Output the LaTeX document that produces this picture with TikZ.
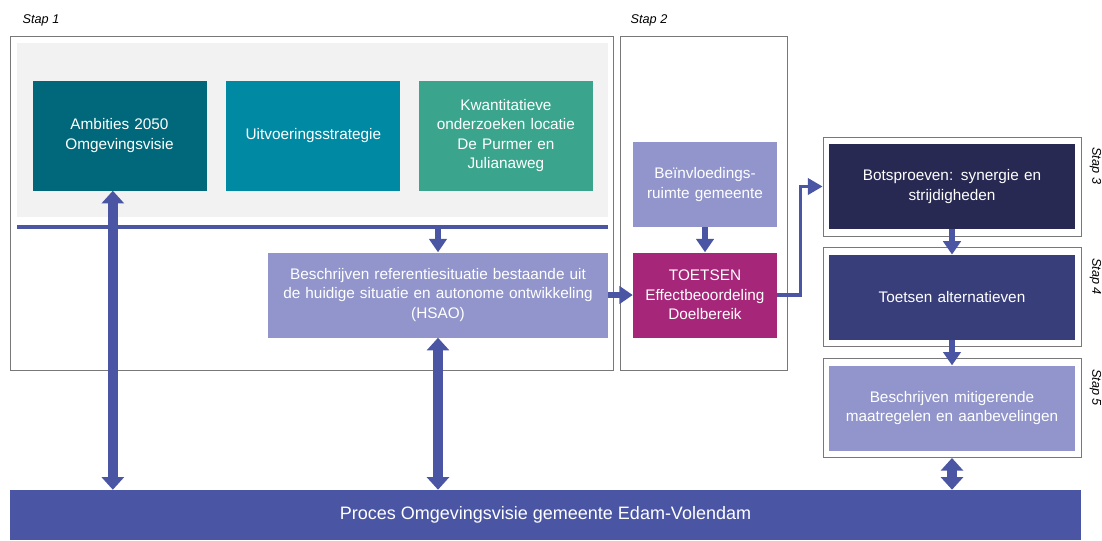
\documentclass[tikz,border=0pt]{standalone}
\usepackage{fontspec}
\setmainfont{Liberation Sans}
\usetikzlibrary{positioning, arrows.meta}

\definecolor{ambiteal}{RGB}{0,104,122}
\definecolor{uitvteal}{RGB}{0,137,163}
\definecolor{kwantgreen}{RGB}{58,165,140}
\definecolor{lilac}{RGB}{145,149,203}
\definecolor{toetsmagenta}{RGB}{166,38,122}
\definecolor{navydark}{RGB}{40,41,82}
\definecolor{navy}{RGB}{56,62,122}
\definecolor{procesblue}{RGB}{74,85,163}
\definecolor{panelgray}{RGB}{242,242,242}
\definecolor{framegray}{RGB}{120,120,120}

\newcommand{\boxfont}{\fontsize{11.5}{14.5}\selectfont}

\begin{document}
\begin{tikzpicture}[
    x=0.75pt, y=-0.75pt,
    node distance=14.5pt,
    % Styles
    box/.style={fill=#1, text=white, align=center, inner sep=4pt, font=\boxfont},
    frame/.style={draw=framegray, line width=0.6pt},
    stepframe/.style={draw=framegray, line width=0.6pt, minimum width=193.5pt, minimum height=74.25pt},
    steplabel/.style={rotate=-90, anchor=south west, inner sep=1pt, font=\fontsize{9.5}{11}\selectfont\itshape},
    stapnote/.style={font=\fontsize{9.5}{11}\selectfont\itshape},
    bigarrow/.style={{Triangle[width=16.5pt,length=9.5pt]}-{Triangle[width=16.5pt,length=9.5pt]}, line width=7pt, procesblue},
    arrow/.style={-{Triangle[width=13pt,length=10pt]}, line width=4.5pt, procesblue},
    thinarrow/.style={-{Triangle[width=12pt,length=11pt]}, line width=2.6pt, procesblue},
]
\useasboundingbox (0,0) rectangle (1102,540);

% Stap 1 and Stap 2 frames
\node[stapnote] (stap1lbl) at (41,20) {Stap 1};
\draw[frame] (10,36) rectangle (613,370);
\fill[panelgray] (17,43) rectangle (608,217);
\node[stapnote] (stap2lbl) at (649,20) {Stap 2};
\draw[frame] (620,36) rectangle (787,370);

% Inputs of step 1
\node[box=ambiteal, text width=122.5pt, minimum height=82.5pt] (ambities) at (119.5,135.5) {Ambities 2050\\Omgevingsvisie};
\node[box=uitvteal, text width=122.5pt, minimum height=82.5pt, right=14.5pt of ambities] (uitvoering) {Uitvoeringsstrategie};
\node[box=kwantgreen, text width=122.5pt, minimum height=82.5pt, right=13.5pt of uitvoering] (kwantitatief) {Kwantitatieve\\onderzoeken locatie\\De Purmer en\\Julianaweg};

% Bus line
\coordinate (busL) at (17,227);
\coordinate (busR) at (608,227);
\draw[procesblue, line width=3pt] (busL) -- (busR);

% Reference situation
\node[box=lilac, text width=247pt, minimum height=63.75pt] (hsao) at (438,295) {Beschrijven referentiesituatie bestaande uit\\de huidige situatie en autonome ontwikkeling\\(HSAO)};

% Step 2
\node[box=lilac, text width=100pt, minimum height=63.75pt] (beinvloeding) at (705,184.5) {Beïnvloedings-\\ruimte gemeente};
\node[box=toetsmagenta, text width=100pt, minimum height=63.75pt] (toetsen) at (705,295) {TOETSEN\\Effectbeoordeling\\Doelbereik};

% Steps 3 to 5
\node[stepframe] (step3box) at (952,186.5) {};
\node[box=navydark, text width=176.5pt, minimum height=63.75pt] (botsproeven) at (step3box) {Botsproeven: synergie en\\strijdigheden};
\node[stepframe, below=8.25pt of step3box] (step4box) {};
\node[box=navy, text width=176.5pt, minimum height=63.75pt] (alternatieven) at (step4box) {Toetsen alternatieven};
\node[stepframe, below=8.25pt of step4box] (step5box) {};
\node[box=lilac, text width=176.5pt, minimum height=63.75pt] (mitigerend) at (step5box) {Beschrijven mitigerende\\maatregelen en aanbevelingen};

\node[steplabel] (stap3lbl) at ([xshift=5pt, yshift=-7pt]step3box.north east) {Stap 3};
\node[steplabel] (stap4lbl) at ([xshift=5pt, yshift=-7pt]step4box.north east) {Stap 4};
\node[steplabel] (stap5lbl) at ([xshift=5pt, yshift=-7pt]step5box.north east) {Stap 5};

% Process bar
\node[fill=procesblue, text=white, minimum width=803.25pt, minimum height=37.5pt, font=\fontsize{13.5}{16}\selectfont] (proces) at (545.5,515) {Proces Omgevingsvisie gemeente Edam-Volendam};

% Connectors
\draw[bigarrow] ([xshift=-5pt]ambities.south) -- ([xshift=-5pt]ambities.south |- proces.north);
\draw[bigarrow] (hsao.south) -- (hsao.south |- proces.north);
\draw[bigarrow] (step5box.south) -- (step5box.south |- proces.north);
\draw[arrow] (hsao.north |- busR) -- (hsao.north);
\draw[arrow] (hsao.east) -- (toetsen.west);
\draw[arrow] (beinvloeding) -- (toetsen);
\draw[thinarrow] (toetsen.east) -- ++(23,0) |- (step3box.west);
\draw[arrow] (botsproeven) -- (alternatieven);
\draw[arrow] (alternatieven) -- (mitigerend);

\end{tikzpicture}
\end{document}
